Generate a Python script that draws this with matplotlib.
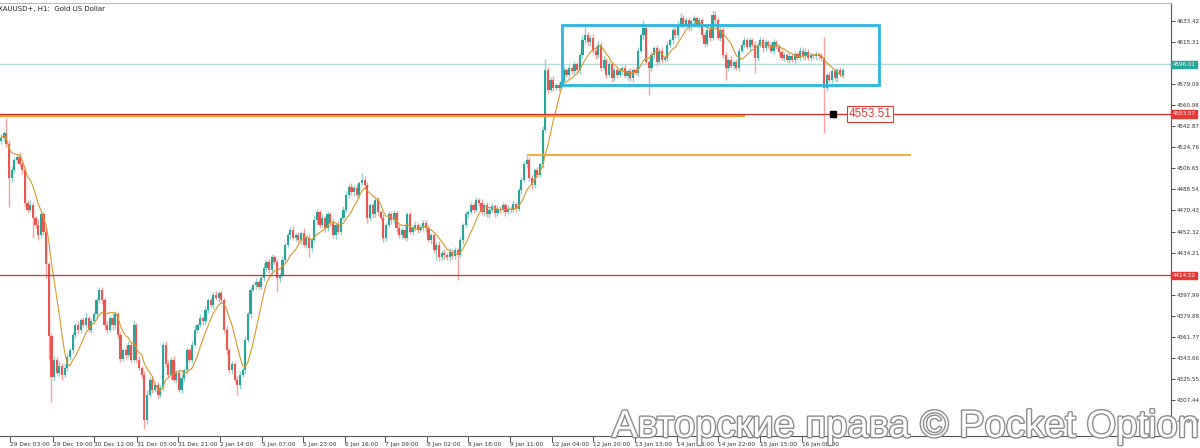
import numpy as np
import pandas as pd
import matplotlib
matplotlib.use("Agg")
import matplotlib.pyplot as plt
import matplotlib.patheffects as pe
from matplotlib.patches import Rectangle

# ---------------- data (XAUUSD+, H1) ----------------
first_open = 4530
closes = [
    4533, 4537, 4528, 4498, 4505, 4514, 4516, 4510, 4505, 4477,
    4471, 4475, 4464, 4458, 4449, 4467, 4452, 4424, 4362, 4327,
    4342, 4331, 4337, 4329, 4335, 4344, 4350, 4363, 4372, 4368,
    4376, 4372, 4378, 4368, 4375, 4381, 4393, 4402, 4393, 4372,
    4368, 4378, 4372, 4381, 4363, 4343, 4350, 4346, 4355, 4342,
    4372, 4342, 4335, 4329, 4290, 4312, 4325, 4316, 4320, 4312,
    4318, 4355, 4338, 4329, 4342, 4325, 4331, 4316, 4326, 4333,
    4350, 4342, 4355, 4368, 4372, 4378, 4375, 4385, 4393, 4389,
    4398, 4395, 4399, 4393, 4368, 4350, 4333, 4338, 4325, 4320,
    4329, 4333, 4359, 4381, 4402, 4406, 4409, 4405, 4412, 4421,
    4426, 4419, 4430, 4426, 4412, 4415, 4428, 4441, 4449, 4454,
    4447, 4449, 4445, 4451, 4441, 4447, 4438, 4445, 4462, 4469,
    4458, 4464, 4455, 4467, 4460, 4449, 4458, 4452, 4464, 4471,
    4484, 4491, 4486, 4490, 4484, 4494, 4497, 4492, 4464, 4475,
    4467, 4479, 4469, 4464, 4447, 4458, 4467, 4462, 4468, 4455,
    4449, 4454, 4447, 4467, 4452, 4455, 4458, 4454, 4456, 4460,
    4455, 4445, 4449, 4436, 4441, 4430, 4434, 4432, 4430, 4435,
    4431, 4436, 4432, 4445, 4458, 4467, 4469, 4475, 4471, 4479,
    4477, 4469, 4475, 4467, 4471, 4474, 4468, 4472, 4471, 4475,
    4469, 4472, 4471, 4476, 4472, 4488, 4497, 4510, 4514, 4498,
    4492, 4505, 4501, 4510, 4540, 4591, 4574, 4583, 4576, 4578,
    4576, 4581, 4591, 4587, 4593, 4590, 4596, 4591, 4604, 4617,
    4621, 4615, 4619, 4608, 4604, 4613, 4593, 4600, 4587, 4596,
    4584, 4591, 4587, 4590, 4593, 4586, 4590, 4584, 4591, 4589,
    4608, 4621, 4627, 4598, 4593, 4604, 4610, 4598, 4608, 4600,
    4602, 4613, 4617, 4626, 4621, 4630, 4636, 4630, 4634, 4628,
    4633, 4636, 4630, 4634, 4621, 4614, 4626, 4619, 4639, 4634,
    4619, 4626, 4604, 4593, 4600, 4595, 4598, 4593, 4608, 4613,
    4617, 4611, 4617, 4613, 4602, 4613, 4617, 4610, 4615, 4613,
    4608, 4615, 4611, 4607, 4602, 4604, 4600, 4603, 4600, 4605,
    4602, 4608, 4603, 4607, 4602, 4604, 4603, 4605, 4603, 4602,
    4576, 4587, 4583, 4590, 4584, 4591, 4587, 4591,
]
upper_wick = [
    3, 2, 13, 3, 4, 2, 3, 5, 2, 3,   2, 4, 3, 2, 5, 3, 2, 3, 2, 3,
    3, 2, 4, 2, 3, 4, 2, 3, 2, 3,    2, 3, 4, 2, 3, 2, 3, 3, 3, 2,
    3, 2, 4, 3, 2, 3, 2, 4, 3, 2,    3, 2, 3, 2, 3, 4, 2, 3, 2, 3,
    2, 2, 3, 4, 2, 3, 2, 3, 4, 2,    3, 2, 3, 4, 2, 3, 2, 3, 2, 3,
    2, 3, 2, 3, 2, 3, 2, 3, 2, 3,    3, 2, 3, 2, 3, 2, 3, 2, 3, 4,
    2, 3, 3, 2, 3, 2, 3, 2, 3, 2,    3, 2, 3, 2, 4, 2, 3, 2, 4, 3,
    2, 3, 2, 3, 2, 3, 2, 3, 2, 3,    3, 2, 3, 2, 3, 2, 6, 3, 3, 2,
    3, 2, 3, 2, 4, 2, 3, 2, 3, 2,    3, 2, 4, 2, 3, 2, 3, 2, 3, 2,
    2, 3, 2, 3, 2, 3, 2, 3, 2, 3,    2, 3, 2, 3, 2, 3, 2, 3, 2, 3,
    2, 3, 2, 3, 2, 3, 2, 3, 2, 3,    2, 3, 2, 3, 2, 3, 2, 3, 3, 2,
    3, 2, 3, 2, 3, 10, 3, 2, 3, 2,   3, 2, 3, 2, 3, 2, 3, 2, 3, 4,
    9, 3, 2, 3, 2, 3, 2, 3, 2, 3,    2, 3, 2, 3, 2, 3, 2, 3, 2, 3,
    3, 2, 7, 3, 2, 3, 2, 3, 2, 3,    2, 3, 2, 3, 2, 3, 4, 3, 2, 3,
    2, 3, 2, 3, 2, 3, 2, 3, 4, 3,    2, 3, 2, 3, 2, 3, 2, 3, 2, 3,
    3, 2, 3, 2, 3, 2, 3, 2, 3, 2,    2, 3, 2, 3, 2, 3, 2, 3, 2, 3,
    2, 3, 2, 3, 2, 3, 2, 3, 2, 3,    18, 2, 3, 2, 3, 2, 3, 2,
]
lower_wick = [
    2, 3, 3, 25, 3, 2, 3, 2, 3, 4,   3, 2, 17, 3, 4, 2, 3, 12, 20, 21,
    3, 2, 3, 4, 2, 3, 2, 3, 2, 3,    3, 2, 3, 2, 3, 2, 3, 2, 3, 4,
    3, 2, 4, 3, 2, 3, 2, 3, 2, 3,    2, 3, 2, 3, 8, 3, 2, 3, 2, 3,
    2, 3, 2, 3, 4, 2, 3, 2, 3, 2,    3, 2, 3, 2, 3, 2, 3, 2, 3, 2,
    3, 2, 3, 2, 3, 4, 2, 3, 2, 8,    3, 2, 3, 2, 3, 2, 3, 2, 3, 2,
    3, 2, 3, 2, 12, 3, 2, 3, 2, 3,   2, 3, 2, 3, 2, 3, 8, 3, 2, 3,
    3, 2, 3, 2, 3, 2, 3, 2, 3, 2,    2, 3, 2, 3, 2, 3, 2, 3, 4, 2,
    3, 2, 3, 2, 4, 3, 2, 3, 2, 3,    2, 3, 2, 3, 2, 3, 2, 3, 2, 3,
    3, 2, 3, 2, 8, 3, 2, 3, 2, 3,    2, 3, 21, 2, 3, 2, 3, 2, 3, 2,
    3, 2, 3, 2, 3, 2, 3, 2, 3, 2,    3, 2, 3, 2, 3, 2, 3, 2, 3, 2,
    3, 2, 3, 2, 3, 2, 3, 2, 3, 2,    3, 2, 3, 2, 3, 2, 3, 2, 3, 2,
    3, 2, 3, 2, 3, 2, 3, 2, 3, 2,    3, 2, 3, 2, 3, 2, 3, 2, 3, 2,
    3, 2, 3, 2, 23, 3, 2, 3, 2, 3,   2, 3, 2, 3, 2, 3, 2, 3, 2, 3,
    2, 3, 2, 3, 2, 3, 2, 3, 2, 3,    2, 3, 2, 10, 3, 2, 3, 2, 3, 2,
    3, 2, 3, 2, 13, 3, 2, 3, 2, 3,   2, 3, 2, 3, 2, 3, 2, 3, 2, 3,
    2, 3, 2, 3, 2, 3, 2, 3, 2, 3,    39, 3, 2, 3, 2, 3, 2, 3,
]
time_labels = ["29 Dec 03:00", "29 Dec 19:00", "30 Dec 12:00", "31 Dec 05:00",
               "31 Dec 21:00", "2 Jan 14:00", "5 Jan 07:00", "5 Jan 23:00",
               "6 Jan 16:00", "7 Jan 09:00", "8 Jan 02:00", "8 Jan 18:00",
               "9 Jan 11:00", "12 Jan 04:00", "12 Jan 20:00", "13 Jan 13:00",
               "14 Jan 06:00", "14 Jan 22:00", "15 Jan 15:00", "16 Jan 08:00"]
time_label_bars = [3.4, 19.6, 35.0, 51.2, 66.7, 82.5, 98.3, 113.7, 129.6, 144.6,
                   160.5, 175.9, 191.7, 207.5, 223.0, 238.8, 254.6, 270.1, 285.9, 301.7]
price_ticks = [4289.33, 4307.44, 4325.55, 4343.66, 4361.77, 4379.88, 4397.99,
               4416.10, 4434.21, 4452.32, 4470.43, 4488.54, 4506.65, 4524.76,
               4542.87, 4560.98, 4579.09, 4597.20, 4615.31, 4633.42]
bid_price = 4596.01
level_upper = 4553.57
level_lower = 4414.52
level_orange_long = 4551.5
level_orange_short = 4518.1
box_top, box_bottom = 4630.0, 4578.3
marker_price = 4553.51
ma_period = 8

# ---------------- figure ----------------
o = np.array([first_open] + closes[:-1], float)
c = np.array(closes, float)
hi = np.maximum(o, c) + np.array(upper_wick)
lo = np.minimum(o, c) - np.array(lower_wick)
idx = np.arange(len(c))

fig = plt.figure(figsize=(12, 4.48), dpi=100)
ax = fig.add_axes([0, 12 / 448, 1171 / 1200, 433 / 448])

bull = c >= o
body_col = np.where(bull, "#26a69a", "#ef5350")
wick_col = np.where(bull, "#8fd3cb", "#f4a3a1")
ax.vlines(idx, lo, hi, colors=wick_col, lw=1.0, zorder=2)
ax.bar(idx, np.maximum(np.abs(c - o), 0.8), bottom=np.minimum(o, c), width=0.82,
       color=body_col, linewidth=0, zorder=3)
ma = pd.Series(c).rolling(ma_period, min_periods=1).mean()
ax.plot(idx, ma, color="#d39a2a", lw=0.8, zorder=4)

x0, x1 = -0.377, 440.7
ax.set_xlim(x0, x1)
ax.set_ylim(4276.4, 4648.9)

# levels
ax.axhline(bid_price, color="#b5ddd8", lw=1.0, zorder=1)
ax.plot([x0, 280.2], [level_orange_long] * 2, color="#f5a623", lw=1.6, zorder=5,
        solid_capstyle="butt")
ax.axhline(level_upper, color="#d32f2f", lw=0.9, zorder=6)
ax.axhline(level_lower, color="#d32f2f", lw=0.9, zorder=6)
ax.plot([198.1, 342.7], [level_orange_short] * 2, color="#f5a623", lw=1.3, zorder=5,
        solid_capstyle="butt")
ax.add_patch(Rectangle((211.3, box_bottom), 330.7 - 211.3, box_top - box_bottom,
                       fill=False, ec="#29b6e3", lw=2.0, zorder=7))
ax.plot([313.4], [marker_price], marker="s", color="black", ms=4, zorder=8)
ax.text(319.3, marker_price, f"{marker_price:.2f}", fontsize=8.5, family="Liberation Sans",
        color="#e53935", va="center", ha="left", zorder=9,
        bbox=dict(boxstyle="square,pad=0.15", fc="white", ec="#e53935", lw=0.8))

# axes styling
ax.spines["left"].set_visible(False)
ax.spines["right"].set_color("#555555")
ax.spines["bottom"].set_color("#555555")
ax.spines["top"].set_color("#bbbbbb")
for s in ["right", "bottom", "top"]:
    ax.spines[s].set_linewidth(0.8)

ax.yaxis.tick_right()
ax.set_yticks(price_ticks)
ax.set_yticklabels(["" if abs(p - bid_price) < 3 or abs(p - level_lower) < 3 or abs(p - level_upper) < 3
                    else f"{p:.2f}" for p in price_ticks])
ax.tick_params(axis="y", labelsize=4.1, length=3, width=0.6, colors="#333333", pad=0.8)

ax.set_xticks(time_label_bars)
ax.set_xticklabels(time_labels, ha="left")
ax.tick_params(axis="x", labelsize=4.2, length=4, width=0.6, colors="#333333", pad=0.5)

for price, col in [(bid_price, "#26a69a"), (level_upper, "#e53935"), (level_lower, "#e53935")]:
    ax.annotate(f"{price:.2f}", xy=(1.0, price), xycoords=("axes fraction", "data"),
                xytext=(1.2, 0), textcoords="offset points", ha="left", va="center",
                fontsize=4.1, color="white", annotation_clip=False, zorder=20,
                bbox=dict(boxstyle="square,pad=0.25", fc=col, ec=col))

fig.text(-0.002, 1 - 9 / 448, "XAUUSD+, H1:  Gold US Dollar", fontsize=5,
         color="#222222", va="center", ha="left")

fig.text(612 / 1200, 11 / 448, "Авторские права © Pocket Option", fontsize=27.5,
         family="Liberation Sans", color="white", va="baseline", ha="left", zorder=30,
         path_effects=[pe.withStroke(linewidth=2.0, foreground="#8c8c8c")])

fig.savefig("out.png", dpi=100)
